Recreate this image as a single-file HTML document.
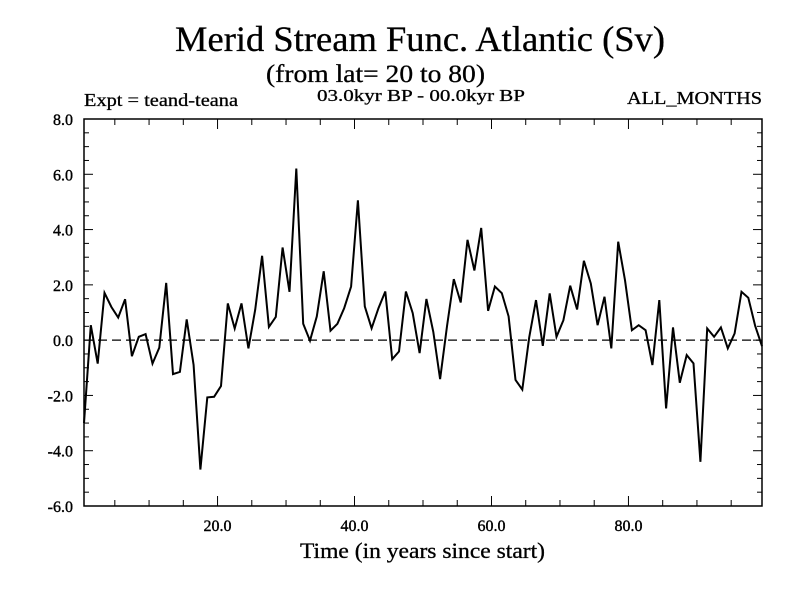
<!DOCTYPE html>
<html><head><meta charset="utf-8"><style>
body{margin:0;background:#fff}
svg text{font-family:"Liberation Serif",serif;fill:#000}
</style></head><body>
<svg id="chart" width="800" height="600" viewBox="0 0 800 600" xmlns="http://www.w3.org/2000/svg">
<rect width="800" height="600" fill="#fff"/>
<text x="175" y="51" font-size="36" textLength="490" lengthAdjust="spacingAndGlyphs" stroke="#000" stroke-width="0.3">Merid Stream Func. Atlantic (Sv)</text>
<text x="266" y="82" font-size="25" textLength="219" lengthAdjust="spacingAndGlyphs" stroke="#000" stroke-width="0.3">(from lat= 20 to 80)</text>
<text x="84" y="106" font-size="18" textLength="154" lengthAdjust="spacingAndGlyphs" stroke="#000" stroke-width="0.3">Expt = teand-teana</text>
<text x="317" y="101" font-size="17" textLength="208" lengthAdjust="spacingAndGlyphs" stroke="#000" stroke-width="0.3">03.0kyr BP - 00.0kyr BP</text>
<text x="627" y="104" font-size="18" textLength="135" lengthAdjust="spacingAndGlyphs" stroke="#000" stroke-width="0.3">ALL_MONTHS</text>
<text x="300" y="558" font-size="22" textLength="245" lengthAdjust="spacingAndGlyphs" stroke="#000" stroke-width="0.3">Time (in years since start)</text>
<g id="axes"></g>
<g id="series"></g>
</svg>
<script>
const values = [-3.0,0.54,-0.85,1.71,1.2,0.82,1.48,-0.58,0.12,0.22,
-0.85,-0.27,2.07,-1.23,-1.15,0.75,-0.9,-4.68,-2.07,-2.05,
-1.66,1.33,0.42,1.33,-0.3,1.1,3.05,0.48,0.84,3.35,
1.75,6.21,0.59,-0.02,0.86,2.49,0.34,0.59,1.16,1.94,
5.06,1.22,0.43,1.16,1.76,-0.69,-0.41,1.76,0.98,-0.47,
1.49,0.3,-1.41,0.5,2.21,1.36,3.63,2.52,4.06,1.06,
1.94,1.7,0.86,-1.44,-1.79,0.1,1.45,-0.21,1.69,0.12,
0.72,1.97,1.11,2.87,2.05,0.54,1.57,-0.3,3.56,2.17,
0.36,0.54,0.36,-0.9,1.45,-2.47,0.46,-1.54,-0.54,-0.84,
-4.4,0.42,0.12,0.46,-0.3,0.24,1.75,1.53,0.51,-0.22];
const xStart = 0.5;
const yTickLabels = ["-6.0","-4.0","-2.0","0.0","2.0","4.0","6.0","8.0"];
const yTickValues = [-6,-4,-2,0,2,4,6,8];
const xTickLabels = ["20.0","40.0","60.0","80.0"];
const xTickValues = [20,40,60,80];

const L=84,R=762,T=119,B=506, xmin=0.5,xmax=99.5,ymin=-6,ymax=8;
const sx=v=>L+(v-xmin)/(xmax-xmin)*(R-L);
const sy=v=>B-(v-ymin)/(ymax-ymin)*(B-T);
const NS="http://www.w3.org/2000/svg";
const axes=document.getElementById('axes'), ser=document.getElementById('series');
function mk(tag,attrs,parent){const e=document.createElementNS(NS,tag);for(const k in attrs)e.setAttribute(k,attrs[k]);parent.appendChild(e);return e;}

const frame=mk('rect',{x:L,y:T,width:R-L,height:B-T,fill:'none',stroke:'#000','stroke-width':1.5},axes);



for(let v=ymin;v<=ymax+1e-9;v+=0.5){
  const y=sy(v), major=Math.abs(v/2-Math.round(v/2))<1e-9, len=major?9:5;
  const t1=mk('line',{x1:L,x2:L+len,y1:y,y2:y,stroke:'#000','stroke-width':1},axes);
  
  
  const t2=mk('line',{x1:R,x2:R-len,y1:y,y2:y,stroke:'#000','stroke-width':1},axes);
  
  
}
yTickValues.forEach((v,i)=>{
  const t=mk('text',{x:73,y:sy(v)+6,'font-size':16,stroke:'#000','stroke-width':0.4,'text-anchor':'end'},axes);
  t.textContent=yTickLabels[i];
  
  
});
for(let v=5;v<xmax;v+=5){
  const x=sx(v), len=(v%20===0)?10:6;
  const t1=mk('line',{x1:x,x2:x,y1:B,y2:B-len,stroke:'#000','stroke-width':1},axes);
  
  
  const t2=mk('line',{x1:x,x2:x,y1:T,y2:T+len,stroke:'#000','stroke-width':1},axes);
  
  
}
xTickValues.forEach((v,i)=>{
  const t=mk('text',{x:sx(v),y:531,'font-size':16,stroke:'#000','stroke-width':0.4,'text-anchor':'middle'},axes);
  t.textContent=xTickLabels[i];
  
  
});
const zl=mk('line',{x1:L,x2:R,y1:sy(0),y2:sy(0),stroke:'#000','stroke-width':1.2,'stroke-dasharray':'9,5'},ser);



const pts=values.map((v,i)=>sx(xStart+i).toFixed(1)+','+sy(v).toFixed(1)).join(' ');
const pl=mk('polyline',{points:pts,fill:'none',stroke:'#000','stroke-width':2,'stroke-linejoin':'miter'},ser);


</script>
</body></html>
